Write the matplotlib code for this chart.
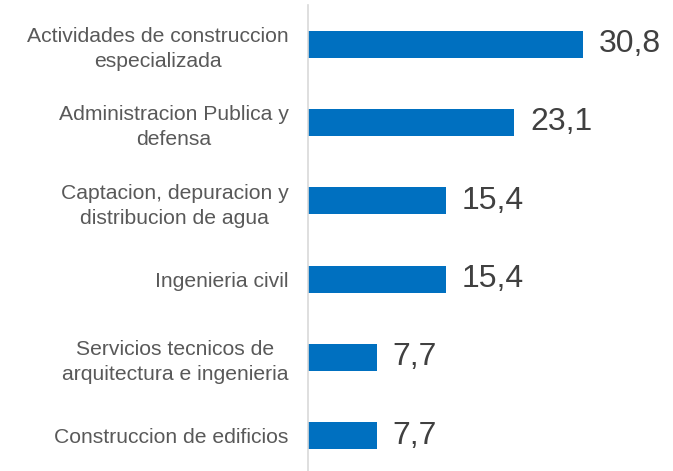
import matplotlib.pyplot as plt

# data
categories = ["Actividades de construccion\nespecializada",
              "Administracion Publica y\ndefensa",
              "Captacion, depuracion y\ndistribucion de agua",
              "Ingenieria civil",
              "Servicios tecnicos de\narquitectura e ingenieria",
              "Construccion de edificios"]
values = [30.8, 23.1, 15.4, 15.4, 7.7, 7.7]
value_labels = ["30,8", "23,1", "15,4", "15,4", "7,7", "7,7"]

plt.rcParams['font.family'] = ['Liberation Sans', 'DejaVu Sans']

fig = plt.figure(figsize=(6.73, 4.71), dpi=100)
ax = fig.add_axes([308 / 673, 0, 365 / 673, 466 / 471])

pos = list(range(len(categories)))
ax.barh(pos, values, height=0.345, color='#0070C0')

for p, v, lab in zip(pos, values, value_labels):
    ax.annotate(lab, (v, p), xytext=(11.5, 0), textcoords='offset points',
                ha='left', va='center', fontsize=23, color='#404040')

ax.set_xlim(0, 365 / 8.93)
ax.set_ylim(5.45, -0.5)
ax.set_yticks(pos)
ax.set_yticklabels(categories, fontsize=15.2, color='#595959',
                   multialignment='center', linespacing=1.4)
ax.tick_params(axis='y', length=0, pad=14)
ax.set_xticks([])

for s in ['top', 'right', 'bottom']:
    ax.spines[s].set_visible(False)
ax.spines['left'].set_color('#D9D9D9')
ax.spines['left'].set_linewidth(1.2)

fig.savefig('out.png', dpi=100)
